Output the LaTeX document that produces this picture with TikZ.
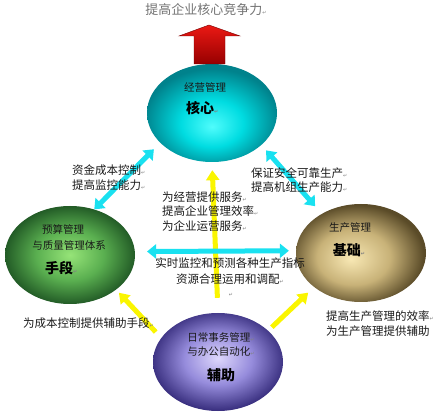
\documentclass[tikz,border=0pt]{standalone}
\usepackage{fontspec}
\setmainfont{Noto Sans CJK SC}
\newfontfamily\symfont{DejaVu Sans}
\usetikzlibrary{arrows.meta,shapes.geometric}

\definecolor{cyanhi}{RGB}{80,252,252}
\definecolor{cyanmid}{RGB}{0,220,225}
\definecolor{cyanlo}{RGB}{0,130,140}
\definecolor{greenhi}{RGB}{150,228,120}
\definecolor{greenmid}{RGB}{90,175,80}
\definecolor{greenlo}{RGB}{30,85,35}
\definecolor{brownhi}{RGB}{248,232,180}
\definecolor{brownmid}{RGB}{200,178,120}
\definecolor{brownlo}{RGB}{90,75,40}
\definecolor{purplehi}{RGB}{222,215,252}
\definecolor{purplemid}{RGB}{150,140,220}
\definecolor{purplelo}{RGB}{55,45,125}
\definecolor{linkcyan}{RGB}{25,225,240}
\definecolor{feedyellow}{RGB}{250,245,0}
\definecolor{arrowtop}{RGB}{235,25,20}
\definecolor{arrowbot}{RGB}{150,0,0}
\definecolor{goalgray}{RGB}{115,115,115}

\pgfdeclareradialshading{cyanball}{\pgfpoint{0bp}{-7bp}}{color(0bp)=(cyanhi); color(12bp)=(cyanmid); color(26bp)=(cyanlo); color(50bp)=(cyanlo)}
\pgfdeclareradialshading{greenball}{\pgfpoint{0bp}{0bp}}{color(0bp)=(greenhi); color(13bp)=(greenmid); color(26bp)=(greenlo); color(50bp)=(greenlo)}
\pgfdeclareradialshading{brownball}{\pgfpoint{-4bp}{-3bp}}{color(0bp)=(brownhi); color(14bp)=(brownmid); color(26bp)=(brownlo); color(50bp)=(brownlo)}
\pgfdeclareradialshading{purpleball}{\pgfpoint{0bp}{2bp}}{color(0bp)=(purplehi); color(13bp)=(purplemid); color(26bp)=(purplelo); color(50bp)=(purplelo)}

\newcommand\retmark{{\symfont\fontsize{5}{5}\selectfont\textcolor{gray}{↵}}}

\begin{document}
\begin{tikzpicture}[x=1pt,y=-1pt,
    ball/.style={ellipse,minimum width=130pt,minimum height=98pt,inner sep=0pt,shade},
    link/.style={{Triangle[width=14pt,length=9pt]}-{Triangle[width=14pt,length=9pt]},line width=5pt,draw=linkcyan},
    feed/.style={-{Triangle[width=13pt,length=10pt]},line width=5pt,draw=feedyellow},
    note/.style={font=\fontsize{11.5}{14.5}\selectfont,text=black!90,inner sep=0pt},
    inball/.style={font=\fontsize{10.5}{12}\selectfont,text=black!90,inner sep=0pt},
    bigword/.style={font=\fontsize{14}{14}\selectfont\bfseries,inner sep=0pt}]
    \useasboundingbox (0,0) rectangle (439,419);

    \node[ball,shading=cyanball]   (core)    at (212,113) {};
    \node[ball,shading=greenball]  (budget)  at (70,255)  {};
    \node[ball,shading=brownball]  (prod)    at (361,253) {};
    \node[ball,shading=purpleball] (routine) at (218,362) {};

    % red arrow up to the goal
    \shade[top color=arrowtop,bottom color=arrowbot,draw=arrowbot!80!black,line width=0.4pt]
      (194,64) -- (194,36) -- (179,36) -- (209,25) -- (240,36) -- (225,36) -- (225,64) -- cycle;
    \node[font=\fontsize{13}{13}\selectfont,text=goalgray,inner sep=0pt] (goal) at (206,10) {提高企业核心竞争力\retmark};

    \path
    (routine.north) edge [feed,shorten <=15pt,shorten >=8pt] (core.south)
    (routine.157) edge [feed,shorten <=8pt,shorten >=4pt] (budget.-37)
    (routine.32) edge [feed,shorten <=5pt,shorten >=8pt] (prod.216)
    (budget.62) edge [link,shorten >=9pt] (core.210)
    (core.-33) edge [link,shorten <=7pt,shorten >=10pt] (prod.135)
    (budget.3) edge [link,shorten <=12pt,shorten >=7pt] (prod.178)
    ;

    % texts in the balls
    \node[inball] (coretop) at (205,88) {经营管理};
    \node[bigword,anchor=west] (corekey) at (186,108) {核心\retmark};
    \node[inball] (budgettop) at (63,229) {预算管理};
    \node[inball] (budgetmid) at (69,245) {与质量管理体系};
    \node[bigword,anchor=west] (budgetkey) at (45,268) {手段\retmark};
    \node[inball] (prodtop) at (350,228) {生产管理};
    \node[bigword] (prodkey) at (349,250) {基础\retmark};
    \node[inball] (routinetop) at (221,338) {日常事务管理\retmark};
    \node[inball] (routinemid) at (221,352) {与办公自动化\retmark};
    \node[bigword] (routinekey) at (221,375) {辅助};

    % texts on the links
    \node[note,anchor=west,align=left] (costtxt) at (72,177.5) {资金成本控制\retmark\\提高监控能力\retmark};
    \node[note,anchor=west,align=left] (safetxt) at (251,180) {保证安全可靠生产\retmark\\提高机组生产能力\retmark};
    \node[note,anchor=west,align=left] (servetxt) at (162,211.5) {为经营提供服务\retmark\\提高企业管理效率\retmark\\为企业运营服务\retmark};
    \node[note,font=\fontsize{11.5}{16}\selectfont,align=center] (monitortxt) at (230,271) {实时监控和预测各种生产指标\\资源合理运用和调配\retmark};
    \node[note] (blankmark) at (231,295) {\retmark};
    \node[note,anchor=west] (aidtxt) at (23,323) {为成本控制提供辅助手段\retmark};
    \node[note,anchor=west,align=left] (effitxt) at (326,323.5) {提高生产管理的效率\retmark\\为生产管理提供辅助};
\end{tikzpicture}
\end{document}
